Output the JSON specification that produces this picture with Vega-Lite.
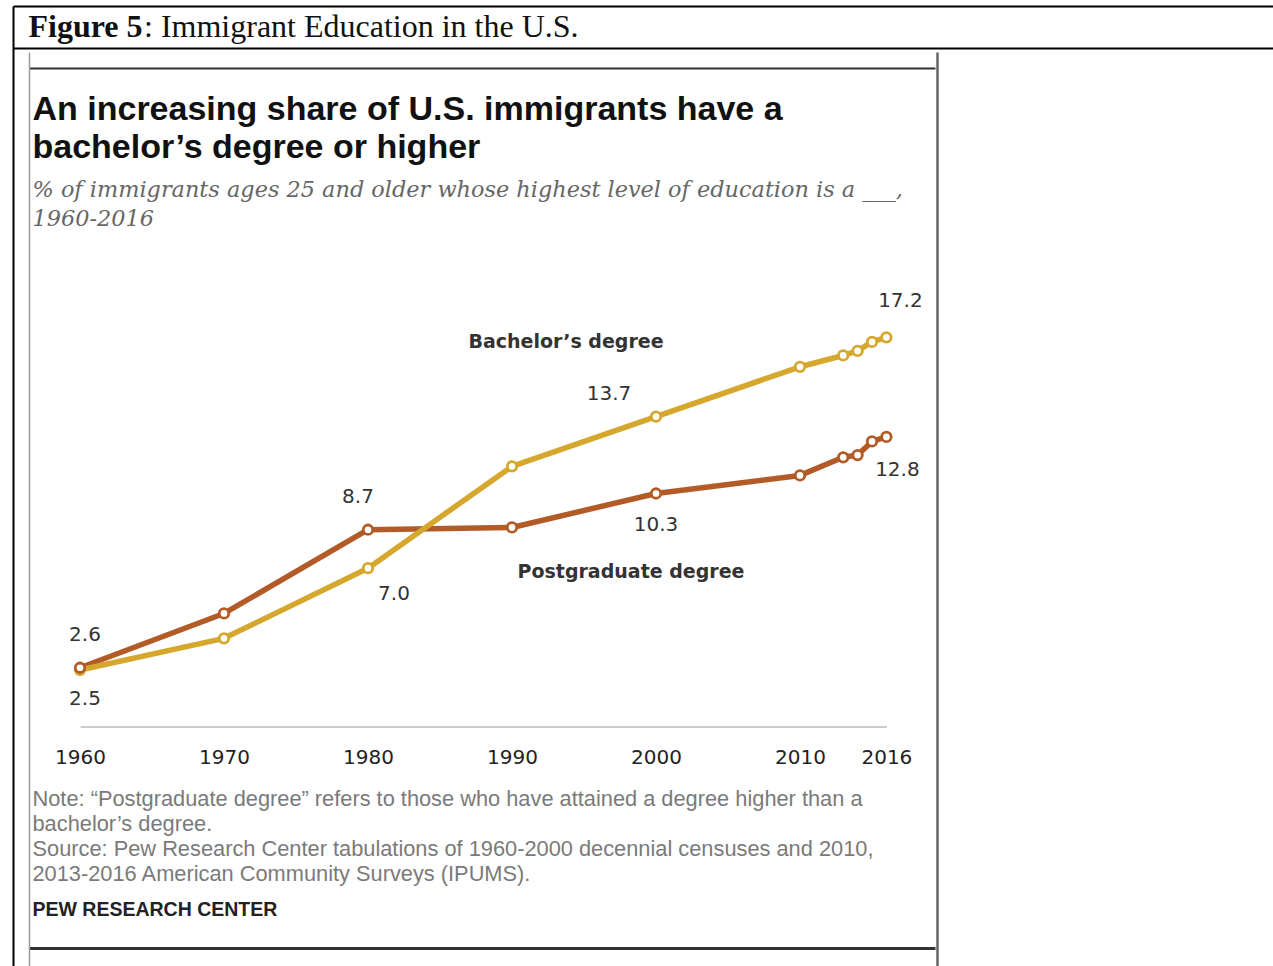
{
  "$schema": "https://vega.github.io/schema/vega-lite/v6.json",
  "width": 1260,
  "height": 960,
  "autosize": "none",
  "padding": {"left": 13, "top": 6, "right": 0, "bottom": 0},
  "background": "white",
  "config": {
    "view": {"stroke": null},
    "axis": {"grid": false, "ticks": false, "tickSize": 0, "labels": false, "domain": true, "titleAlign": "left", "titleBaseline": "alphabetic", "titleAngle": 0}
  },
  "datasets": {
    "edu": [
      {"year": 1960, "series": "Postgraduate degree", "value": 2.6},
      {"year": 1970, "series": "Postgraduate degree", "value": 5.0},
      {"year": 1980, "series": "Postgraduate degree", "value": 8.7},
      {"year": 1990, "series": "Postgraduate degree", "value": 8.8},
      {"year": 2000, "series": "Postgraduate degree", "value": 10.3},
      {"year": 2010, "series": "Postgraduate degree", "value": 11.1},
      {"year": 2013, "series": "Postgraduate degree", "value": 11.9},
      {"year": 2014, "series": "Postgraduate degree", "value": 12.0},
      {"year": 2015, "series": "Postgraduate degree", "value": 12.6},
      {"year": 2016, "series": "Postgraduate degree", "value": 12.8},
      {"year": 1960, "series": "Bachelor’s degree", "value": 2.5},
      {"year": 1970, "series": "Bachelor’s degree", "value": 3.9},
      {"year": 1980, "series": "Bachelor’s degree", "value": 7.0},
      {"year": 1990, "series": "Bachelor’s degree", "value": 11.5},
      {"year": 2000, "series": "Bachelor’s degree", "value": 13.7},
      {"year": 2010, "series": "Bachelor’s degree", "value": 15.9},
      {"year": 2013, "series": "Bachelor’s degree", "value": 16.4},
      {"year": 2014, "series": "Bachelor’s degree", "value": 16.6},
      {"year": 2015, "series": "Bachelor’s degree", "value": 17.0},
      {"year": 2016, "series": "Bachelor’s degree", "value": 17.2}
    ],
    "frame": [{"f": 0}, {"f": 1}]
  },
  "layer": [
    {
      "data": {"name": "frame"},
      "mark": {"type": "point", "opacity": 0},
      "encoding": {
        "x": {"field": "f", "type": "quantitative", "scale": {"domain": [0, 1], "nice": false, "zero": false},
          "axis": {"orient": "top", "offset": 0, "domainColor": "#000000", "domainWidth": 2,
            "title": "Figure 5", "titleFont": "Liberation Serif", "titleFontSize": 32, "titleFontWeight": "bold", "titleColor": "#111111",
            "titleX": 15, "titleY": 30}},
        "y": {"field": "f", "type": "quantitative", "scale": {"domain": [0, 1], "nice": false, "zero": false},
          "axis": {"orient": "left", "offset": 0, "domainColor": "#000000", "domainWidth": 2, "title": null}}
      }
    },
    {
      "data": {"name": "frame"},
      "mark": {"type": "point", "opacity": 0},
      "encoding": {
        "x": {"field": "f", "type": "quantitative", "scale": {"domain": [0, 1], "nice": false, "zero": false},
          "axis": {"orient": "top", "offset": -42, "domainColor": "#000000", "domainWidth": 2,
            "title": ": Immigrant Education in the U.S.", "titleFont": "Liberation Serif", "titleFontSize": 32, "titleFontWeight": "normal", "titleColor": "#111111",
            "titleX": 130.5, "titleY": -12}}
      }
    },
    {
      "data": {"name": "frame"},
      "mark": {"type": "point", "opacity": 0},
      "encoding": {
        "x": {"field": "f", "type": "quantitative", "scale": {"domain": [0, 1], "range": [16, 922], "nice": false, "zero": false},
          "axis": {"orient": "top", "offset": -62, "domainColor": "#333333", "domainWidth": 2,
            "title": ["An increasing share of U.S. immigrants have a", "bachelor’s degree or higher"],
            "titleFont": "Liberation Sans", "titleFontSize": 34, "titleFontWeight": "bold", "titleColor": "#111111", "titleLineHeight": 38,
            "titleX": 19, "titleY": 51}},
        "y": {"field": "f", "type": "quantitative", "scale": {"domain": [0, 1], "range": [46, 960], "nice": false, "zero": false},
          "axis": {"orient": "left", "offset": -16, "domainColor": "#9a9a9a", "domainWidth": 1.5,
            "title": ["% of immigrants ages 25 and older whose highest level of education is a ___,", "1960-2016"],
            "titleFont": "DejaVu Serif", "titleFontSize": 22.4, "titleFontStyle": "italic", "titleFontWeight": "normal", "titleColor": "#666666", "titleLineHeight": 29,
            "titleX": 3, "titleY": 190}}
      }
    },
    {
      "data": {"name": "frame"},
      "mark": {"type": "point", "opacity": 0},
      "encoding": {
        "x": {"field": "f", "type": "quantitative", "scale": {"domain": [0, 1], "range": [16, 922], "nice": false, "zero": false},
          "axis": {"orient": "bottom", "offset": -18, "domainColor": "#333333", "domainWidth": 3,
            "title": "PEW RESEARCH CENTER", "titleFont": "Liberation Sans", "titleFontSize": 19.5, "titleFontWeight": "bold", "titleColor": "#222222",
            "titleX": 19, "titleY": -33}},
        "y": {"field": "f", "type": "quantitative", "scale": {"domain": [0, 1], "range": [46, 960], "nice": false, "zero": false},
          "axis": {"orient": "right", "offset": -336, "domainColor": "#666666", "domainWidth": 2.5, "title": null}}
      }
    },
    {
      "data": {"name": "edu"},
      "encoding": {
        "x": {"field": "year", "type": "quantitative",
          "scale": {"domain": [1960, 2016], "range": [67, 873.4], "nice": false, "zero": false},
          "axis": {"orient": "bottom", "offset": -239.4, "domainColor": "#bbbbbb", "domainWidth": 1.5,
            "values": [1960, 1970, 1980, 1990, 2000, 2010, 2016], "format": "d",
            "labels": true, "labelFlush": false, "labelOverlap": false, "labelFont": "DejaVu Sans", "labelFontSize": 20, "labelColor": "#222222",
            "labelBaseline": "alphabetic", "labelPadding": 36.4,
            "title": ["Note: “Postgraduate degree” refers to those who have attained a degree higher than a", "bachelor’s degree.", "Source: Pew Research Center tabulations of 1960-2000 decennial censuses and 2010,", "2013-2016 American Community Surveys (IPUMS)."],
            "titleFont": "Liberation Sans", "titleFontSize": 21.8, "titleFontWeight": "normal", "titleColor": "#7a7a7a", "titleLineHeight": 25,
            "titleX": 19, "titleY": 78.4}},
        "y": {"field": "value", "type": "quantitative",
          "scale": {"domain": [0, 20], "range": [720.6, 268], "nice": false, "zero": false},
          "axis": null}
      },
      "layer": [
        {
          "mark": {"type": "line", "strokeWidth": 5.5, "strokeJoin": "round", "strokeCap": "round"},
          "encoding": {
            "color": {"field": "series", "type": "nominal", "scale": {"domain": ["Bachelor’s degree", "Postgraduate degree"], "range": ["#d5a72c", "#b35b27"]}, "legend": null}
          }
        },
        {
          "mark": {"type": "point", "filled": false, "fill": "white", "fillOpacity": 1, "opacity": 1, "size": 90, "strokeWidth": 2.8},
          "encoding": {
            "color": {"field": "series", "type": "nominal", "scale": {"domain": ["Bachelor’s degree", "Postgraduate degree"], "range": ["#d5a72c", "#b35b27"]}, "legend": null},
            "order": {"field": "series", "sort": "ascending"}
          }
        },
        {
          "transform": [{"filter": {"and": [{"field": "series", "equal": "Bachelor’s degree"}, {"field": "year", "equal": 2016}]}}],
          "mark": {"type": "text", "dx": 14, "dy": -36, "font": "DejaVu Sans", "fontSize": 20, "color": "#333333", "baseline": "middle", "align": "center"},
          "encoding": {"text": {"field": "value", "type": "quantitative", "format": ".1f"}}
        },
        {
          "transform": [{"filter": {"and": [{"field": "series", "equal": "Postgraduate degree"}, {"field": "year", "equal": 2016}]}}],
          "mark": {"type": "text", "dx": 11, "dy": 33, "font": "DejaVu Sans", "fontSize": 20, "color": "#333333", "baseline": "middle", "align": "center"},
          "encoding": {"text": {"field": "value", "type": "quantitative", "format": ".1f"}}
        },
        {
          "transform": [{"filter": {"and": [{"field": "series", "equal": "Bachelor’s degree"}, {"field": "year", "equal": 2000}]}}],
          "mark": {"type": "text", "dx": -47, "dy": -23, "font": "DejaVu Sans", "fontSize": 20, "color": "#333333", "baseline": "middle", "align": "center"},
          "encoding": {"text": {"field": "value", "type": "quantitative", "format": ".1f"}}
        },
        {
          "transform": [{"filter": {"and": [{"field": "series", "equal": "Postgraduate degree"}, {"field": "year", "equal": 2000}]}}],
          "mark": {"type": "text", "dx": 0, "dy": 31, "font": "DejaVu Sans", "fontSize": 20, "color": "#333333", "baseline": "middle", "align": "center"},
          "encoding": {"text": {"field": "value", "type": "quantitative", "format": ".1f"}}
        },
        {
          "transform": [{"filter": {"and": [{"field": "series", "equal": "Postgraduate degree"}, {"field": "year", "equal": 1980}]}}],
          "mark": {"type": "text", "dx": -10, "dy": -33, "font": "DejaVu Sans", "fontSize": 20, "color": "#333333", "baseline": "middle", "align": "center"},
          "encoding": {"text": {"field": "value", "type": "quantitative", "format": ".1f"}}
        },
        {
          "transform": [{"filter": {"and": [{"field": "series", "equal": "Bachelor’s degree"}, {"field": "year", "equal": 1980}]}}],
          "mark": {"type": "text", "dx": 26, "dy": 26, "font": "DejaVu Sans", "fontSize": 20, "color": "#333333", "baseline": "middle", "align": "center"},
          "encoding": {"text": {"field": "value", "type": "quantitative", "format": ".1f"}}
        },
        {
          "transform": [{"filter": {"and": [{"field": "series", "equal": "Postgraduate degree"}, {"field": "year", "equal": 1960}]}}],
          "mark": {"type": "text", "dx": 5, "dy": -33, "font": "DejaVu Sans", "fontSize": 20, "color": "#333333", "baseline": "middle", "align": "center"},
          "encoding": {"text": {"field": "value", "type": "quantitative", "format": ".1f"}}
        },
        {
          "transform": [{"filter": {"and": [{"field": "series", "equal": "Bachelor’s degree"}, {"field": "year", "equal": 1960}]}}],
          "mark": {"type": "text", "dx": 5, "dy": 29, "font": "DejaVu Sans", "fontSize": 20, "color": "#333333", "baseline": "middle", "align": "center"},
          "encoding": {"text": {"field": "value", "type": "quantitative", "format": ".1f"}}
        },
        {
          "transform": [{"filter": {"and": [{"field": "series", "equal": "Bachelor’s degree"}, {"field": "year", "equal": 2000}]}}],
          "mark": {"type": "text", "dx": -90, "dy": -75, "font": "DejaVu Sans", "fontSize": 19, "fontWeight": "bold", "color": "#333333", "baseline": "middle", "align": "center"},
          "encoding": {"text": {"field": "series", "type": "nominal"}}
        },
        {
          "transform": [{"filter": {"and": [{"field": "series", "equal": "Postgraduate degree"}, {"field": "year", "equal": 2000}]}}],
          "mark": {"type": "text", "dx": -25, "dy": 78, "font": "DejaVu Sans", "fontSize": 19, "fontWeight": "bold", "color": "#333333", "baseline": "middle", "align": "center"},
          "encoding": {"text": {"field": "series", "type": "nominal"}}
        }
      ]
    }
  ],
  "resolve": {"scale": {"x": "independent", "y": "independent"}, "axis": {"x": "independent", "y": "independent"}}
}
